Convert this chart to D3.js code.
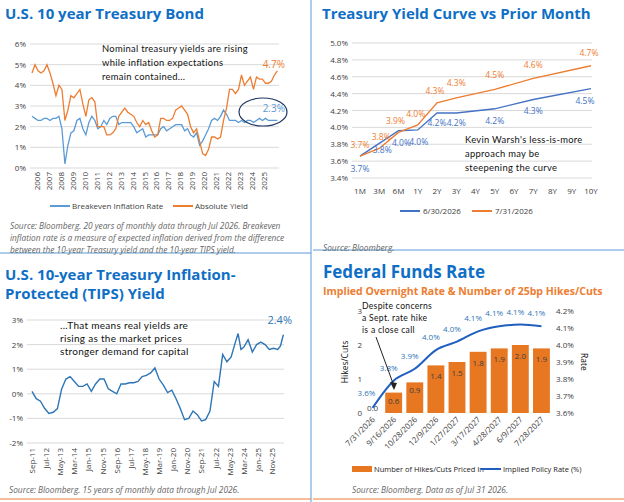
<!DOCTYPE html>
<html><head><meta charset="utf-8">
<script src="https://cdn.jsdelivr.net/npm/d3@7"></script>
<style>body{margin:0;background:#fff}text{font-family:"Open Sans",sans-serif}</style>
</head><body><div id="chart"></div>
<script>
// ---- panel 1: quarterly, 2006 Q1 .. 2026 Q3
var absYield = [4.6,5.0,4.7,4.6, 4.7,5.0,4.6,4.1, 3.5,4.0,3.8,2.3, 2.8,3.5,3.4,3.6, 3.8,3.1,2.5,3.3,
  3.4,3.2,2.0,2.0, 2.0,1.6,1.6,1.7, 1.9,2.5,2.7,2.9, 2.7,2.6,2.5,2.2, 2.0,2.3,2.1,2.2,
  1.8,1.5,1.6,2.4, 2.4,2.3,2.3,2.4, 2.8,2.9,3.0,2.8, 2.6,2.0,1.7,1.9, 1.3,0.7,0.6,0.9,
  1.5,1.5,1.4,1.5, 2.3,2.9,3.8,3.8, 3.6,3.8,4.5,4.0, 4.2,4.4,3.8,4.4, 4.3,4.3,4.1,4.1, 4.2,4.5,4.7];
var breakeven = [2.5,2.4,2.3,2.3, 2.4,2.4,2.3,2.4, 2.4,2.5,1.9,0.2, 1.1,1.7,1.8,2.3, 2.4,1.9,1.6,2.2,
  2.5,2.3,1.9,2.0, 2.3,2.1,2.4,2.5, 2.5,2.1,2.2,2.2, 2.2,2.2,2.0,1.7, 1.8,1.9,1.5,1.6,
  1.6,1.6,1.6,1.9, 2.0,1.8,1.9,2.0, 2.1,2.1,2.1,1.8, 1.9,1.6,1.5,1.7, 1.1,1.3,1.6,1.9,
  2.3,2.4,2.3,2.5, 2.8,2.6,2.3,2.3, 2.3,2.2,2.3,2.2, 2.3,2.3,2.2,2.3, 2.4,2.3,2.4,2.3, 2.3,2.3,2.3];
var years = d3.range(2006, 2026);
// ---- panel 2
var tenors = ["1M","3M","6M","1Y","2Y","3Y","4Y","5Y","6Y","7Y","8Y","9Y","10Y"];
var curveTenors = ["1M","3M","6M","1Y","2Y","3Y","5Y","7Y","10Y"];
var curveJun = [3.66,3.81,3.96,3.97,4.17,4.17,4.22,4.33,4.46];
var curveJul = [3.66,3.75,3.94,4.03,4.29,4.35,4.45,4.58,4.73];
// ---- panel 3: TIPS, quarterly from Sep-11
var tipsT = [2011.67,2011.92,2012.17,2012.42,2012.67,2012.92,2013.17,2013.42,2013.67,2013.92,2014.17,2014.42,2014.67,2014.92,
  2015.17,2015.42,2015.67,2015.92,2016.17,2016.42,2016.67,2016.92,2017.17,2017.42,2017.67,2017.92,2018.17,2018.42,2018.67,2018.92,
  2019.17,2019.42,2019.67,2019.92,2020.17,2020.42,2020.67,2020.92,2021.17,2021.42,2021.67,2021.92,2022.17,2022.42,2022.67,2022.92,
  2023.17,2023.42,2023.67,2023.83,2024.0,2024.17,2024.42,2024.67,2024.92,2025.17,2025.42,2025.67,2025.92,2026.17,2026.33,2026.5];
var tipsV = [0.1,-0.2,-0.3,-0.6,-0.8,-0.75,-0.6,0.2,0.6,0.7,0.5,0.3,0.3,0.4,
  0.1,0.4,0.6,0.6,0.2,0.1,0.0,0.4,0.4,0.45,0.45,0.5,0.7,0.75,0.85,1.05,
  0.6,0.35,0.05,0.15,-0.2,-0.6,-1.05,-1.0,-0.7,-0.85,-1.1,-1.05,-0.7,0.5,0.3,1.6,
  1.3,1.5,2.1,2.45,1.8,1.9,2.2,1.7,2.0,2.1,2.0,1.8,1.85,1.8,1.95,2.4];
var tipsLabels = ["Sep-11","Jul-12","May-13","Mar-14","Jan-15","Nov-15","Sep-16","Jul-17","May-18","Mar-19","Jan-20","Nov-20","Sep-21","Jul-22","May-23","Mar-24","Jan-25","Nov-25"];
// ---- panel 4
var meetings = ["7/31/2026","9/16/2026","10/28/2026","12/9/2026","1/27/2027","3/17/2027","4/28/2027","6/9/2027","7/28/2027"];
var hikes = [0.0,0.6,0.9,1.4,1.5,1.8,1.9,2.0,1.9];
var policyRate = [3.63,3.79,3.86,3.97,4.02,4.08,4.11,4.12,4.11];

var BLUE="#0f6fc6", ORANGE="#ed7d31", LBLUE="#5b9bd5", GRID="#d9d9d9", TXT="#404040";
var svg = d3.select("#chart").append("svg").attr("width",624).attr("height",502);
svg.append("line").attr("x1",311).attr("x2",311).attr("y1",0).attr("y2",502).attr("stroke","#5b9bd5").attr("stroke-width",1);
svg.append("line").attr("x1",0).attr("x2",311).attr("y1",253).attr("y2",253).attr("stroke","#5b9bd5");
svg.append("line").attr("x1",313).attr("x2",624).attr("y1",250).attr("y2",250).attr("stroke","#5b9bd5");
svg.append("line").attr("x1",313).attr("x2",624).attr("y1",499).attr("y2",499).attr("stroke",ORANGE);
svg.append("line").attr("x1",0).attr("x2",311).attr("y1",499).attr("y2",499).attr("stroke",ORANGE);

function title(x,y,t,size){ svg.append("text").attr("x",x).attr("y",y).attr("fill",BLUE).attr("font-size",size||15).attr("font-weight","bold").text(t); }
function note(x,y,lines,size,lh){ var t=svg.append("text").attr("x",x).attr("y",y).attr("font-size",size||11).attr("fill","#111").style("font-family","'Comic Sans MS',Lato,sans-serif").attr("letter-spacing",0.3);
  lines.forEach(function(l,i){ t.append("tspan").attr("x",x).attr("dy",i?(lh||15):0).text(l); }); }
function source(x,y,lines){ var t=svg.append("text").attr("x",x).attr("y",y).attr("font-size",8.3).attr("fill","#666").attr("font-style","italic");
  lines.forEach(function(l,i){ t.append("tspan").attr("x",x).attr("dy",i?12:0).text(l); }); }
function grid(g,y,ticks,x0,x1,fmt){
  ticks.forEach(function(v){
    g.append("line").attr("x1",x0).attr("x2",x1).attr("y1",y(v)).attr("y2",y(v)).attr("stroke",GRID);
    g.append("text").attr("x",x0-4).attr("y",y(v)+3).attr("text-anchor","end").attr("font-size",8).attr("fill",TXT).text(fmt(v));
  });
}

// ===== Panel 1
title(5,19,"U.S. 10 year Treasury Bond");
var g1 = svg.append("g");
var x1 = d3.scaleLinear().domain([2006,2026.55]).range([32,278]);
var y1 = d3.scaleLinear().domain([0,6]).range([168,44]);
grid(g1,y1,d3.range(0,7),30,279,function(v){return v+"%";});
var q = function(i){ return 2006+i*0.25; };
var line1 = d3.line().x(function(d,i){return x1(q(i));}).y(function(d){return y1(d);});
g1.append("path").datum(breakeven).attr("d",line1).attr("fill","none").attr("stroke",LBLUE).attr("stroke-width",1.3);
g1.append("path").datum(absYield).attr("d",line1).attr("fill","none").attr("stroke",ORANGE).attr("stroke-width",1.3);
years.forEach(function(yr){
  var px = x1(yr+0.4);
  g1.append("text").attr("transform","translate("+(px+3)+",172) rotate(-90)").attr("text-anchor","end").attr("font-size",8).attr("fill",TXT).text(yr);
});
g1.append("text").attr("x",285).attr("y",68).attr("text-anchor","end").attr("fill",ORANGE).attr("font-size",10).text("4.7%");
g1.append("text").attr("x",285).attr("y",112).attr("text-anchor","end").attr("fill",LBLUE).attr("font-size",10).text("2.3%");
g1.append("ellipse").attr("cx",263).attr("cy",112).attr("rx",24).attr("ry",14).attr("fill","none").attr("stroke","#1f3864").attr("stroke-width",1.2);
note(102,52,["Nominal treasury yields are rising","while inflation expectations","remain contained..."],9.4,14);
g1.append("line").attr("x1",50).attr("x2",70).attr("y1",206).attr("y2",206).attr("stroke",LBLUE).attr("stroke-width",2);
g1.append("text").attr("x",72).attr("y",209).attr("font-size",8).attr("fill",TXT).text("Breakeven Inflation Rate");
g1.append("line").attr("x1",173).attr("x2",193).attr("y1",206).attr("y2",206).attr("stroke",ORANGE).attr("stroke-width",2);
g1.append("text").attr("x",195).attr("y",209).attr("font-size",8).attr("fill",TXT).text("Absolute Yield");
source(10,229,["Source: Bloomberg. 20 years of monthly data through Jul 2026. Breakeven","inflation rate is a measure of expected inflation derived from the difference","between the 10-year Treasury yield and the 10-year TIPS yield."]);

// ===== Panel 2
title(322,19,"Treasury Yield Curve vs Prior Month");
var g2 = svg.append("g");
var x2 = d3.scalePoint().domain(tenors).range([360,591]);
var y2 = d3.scaleLinear().domain([3.4,5.0]).range([178,43]);
grid(g2,y2,d3.range(3.4,5.01,0.2),352,592,function(v){return v.toFixed(1)+"%";});
tenors.forEach(function(t){ g2.append("text").attr("x",x2(t)).attr("y",194).attr("text-anchor","middle").attr("font-size",8).attr("fill",TXT).text(t); });
var line2 = d3.line().x(function(d,i){return x2(curveTenors[i]);}).y(function(d){return y2(d);});
g2.append("path").datum(curveJun).attr("d",line2).attr("fill","none").attr("stroke","#4472c4").attr("stroke-width",1.4);
g2.append("path").datum(curveJul).attr("d",line2).attr("fill","none").attr("stroke",ORANGE).attr("stroke-width",1.4);
var junOff=[[0,16],[3,10],[3,15],[1,15],[0,13],[0,13],[0,15],[0,14],[-6,15]];
var julOff=[[0,-8],[2,-8],[-3,-8],[-2,-8],[-2,-9],[0,-12],[0,-11],[0,-10],[-2,-10]];
curveJun.forEach(function(v,i){ g2.append("text").attr("x",x2(curveTenors[i])+junOff[i][0]).attr("y",y2(v)+junOff[i][1]).attr("text-anchor","middle").attr("font-size",8.5).attr("fill","#4472c4").text(v.toFixed(1)+"%"); });
curveJul.forEach(function(v,i){ g2.append("text").attr("x",x2(curveTenors[i])+julOff[i][0]).attr("y",y2(v)+julOff[i][1]).attr("text-anchor","middle").attr("font-size",8.5).attr("fill",ORANGE).text(v.toFixed(1)+"%"); });
note(465,143,["Kevin Warsh's less-is-more","approach may be","steepening the curve"],9.4,14);
g2.append("line").attr("x1",400).attr("x2",420).attr("y1",211).attr("y2",211).attr("stroke","#4472c4").attr("stroke-width",2);
g2.append("text").attr("x",423).attr("y",214).attr("font-size",8).attr("fill",TXT).text("6/30/2026");
g2.append("line").attr("x1",472).attr("x2",492).attr("y1",211).attr("y2",211).attr("stroke",ORANGE).attr("stroke-width",2);
g2.append("text").attr("x",495).attr("y",214).attr("font-size",8).attr("fill",TXT).text("7/31/2026");
source(323,251,["Source: Bloomberg."]);

// ===== Panel 3
title(5,280,"U.S. 10-year Treasury Inflation-");
title(5,299,"Protected (TIPS) Yield");
var g3 = svg.append("g");
var x3 = d3.scaleLinear().domain([2011.67,2025.83]).range([32,272]);
var y3 = d3.scaleLinear().domain([-2,3]).range([443,320]);
grid(g3,y3,d3.range(-2,4),27,284,function(v){return v+"%";});
g3.append("path").datum(tipsV).attr("d",d3.line().x(function(d,i){return x3(tipsT[i]);}).y(function(d){return y3(d);}))
  .attr("fill","none").attr("stroke","#2e75b6").attr("stroke-width",1.4);
tipsLabels.forEach(function(l,i){
  var px = x3(2011.67+i*10/12);
  g3.append("text").attr("transform","translate("+(px+3)+",448) rotate(-90)").attr("text-anchor","end").attr("font-size",8).attr("fill",TXT).text(l);
});
g3.append("text").attr("x",292).attr("y",324).attr("text-anchor","end").attr("fill","#2e75b6").attr("font-size",11).text("2.4%");
note(60,329,["...That means real yields are","rising as the market prices","stronger demand for capital"],10,13);
source(9,493,["Source: Bloomberg. 15 years of monthly data through Jul 2026."]);

// ===== Panel 4
title(323,278,"Federal Funds Rate",17);
svg.append("text").attr("x",323).attr("y",295).attr("fill",ORANGE).attr("font-size",10.5).attr("font-weight","bold").text("Implied Overnight Rate & Number of 25bp Hikes/Cuts");
var g4 = svg.append("g");
var x4 = d3.scaleBand().domain(meetings).range([362,552]).paddingInner(0.2).paddingOuter(0.1);
var yL = d3.scaleLinear().domain([0,3]).range([413,311]);
var yR = d3.scaleLinear().domain([3.6,4.2]).range([413,311]);
[0,1,2,3].forEach(function(v){ g4.append("text").attr("x",362).attr("y",yL(v)+3).attr("text-anchor","end").attr("font-size",8).attr("fill",TXT).text(v); });
d3.range(3.6,4.21,0.1).forEach(function(v){ g4.append("text").attr("x",556).attr("y",yR(v)+3).attr("font-size",8).attr("fill",TXT).text(v.toFixed(1)+"%"); });
g4.append("text").attr("transform","translate(348,362) rotate(-90)").attr("text-anchor","middle").attr("font-size",8.5).attr("fill","#111").text("Hikes/Cuts");
g4.append("text").attr("transform","translate(581,362) rotate(90)").attr("text-anchor","middle").attr("font-size",8.5).attr("fill","#111").text("Rate");
g4.selectAll("rect.bar").data(hikes).enter().append("rect")
  .attr("x",function(d,i){return x4(meetings[i]);}).attr("width",x4.bandwidth())
  .attr("y",function(d){return yL(d);}).attr("height",function(d){return yL(0)-yL(d);}).attr("fill","#e87722");
hikes.forEach(function(v,i){ g4.append("text").attr("x",x4(meetings[i])+x4.bandwidth()/2).attr("y",Math.min(yL(v)+ (v>1?14:11), 411)).attr("text-anchor","middle").attr("font-size",8).attr("fill","#404040").text(v.toFixed(1)); });
var cx = function(i){ return x4(meetings[i])+x4.bandwidth()/2; };
g4.append("path").datum(policyRate).attr("d",d3.line().curve(d3.curveMonotoneX).x(function(d,i){return cx(i);}).y(function(d){return yR(d);}))
  .attr("fill","none").attr("stroke","#1f5fbf").attr("stroke-width",2);
policyRate.forEach(function(v,i){ g4.append("text").attr("x",cx(i)-(i===0?6:5)).attr("y",yR(v)-(i===0?12:10)).attr("text-anchor","middle").attr("font-size",8).attr("fill","#2e75b6").text(v.toFixed(1)+"%"); });
meetings.forEach(function(m,i){ g4.append("text").attr("transform","translate("+(cx(i)+3)+",420) rotate(-45)").attr("text-anchor","end").attr("font-size",8).attr("fill",TXT).text(m); });
note(362,309,["Despite concerns","a Sept. rate hike","is a close call"],8.6,12);
g4.append("line").attr("x1",376).attr("y1",337).attr("x2",394).attr("y2",386).attr("stroke","#222").attr("stroke-width",1);
g4.append("path").attr("d","M394,390 L390,382 L397,383 Z").attr("fill","#222");
g4.append("rect").attr("x",352).attr("y",466).attr("width",20).attr("height",6).attr("fill","#e87722");
g4.append("text").attr("x",374).attr("y",472).attr("font-size",7.5).attr("fill","#222").text("Number of Hikes/Cuts Priced In");
g4.append("line").attr("x1",481).attr("x2",501).attr("y1",469).attr("y2",469).attr("stroke","#1f5fbf").attr("stroke-width",2);
g4.append("text").attr("x",503).attr("y",472).attr("font-size",7.5).attr("fill","#222").text("Implied Policy Rate (%)");
source(352,493,["Source: Bloomberg. Data as of Jul 31 2026."]);
</script></body></html>
